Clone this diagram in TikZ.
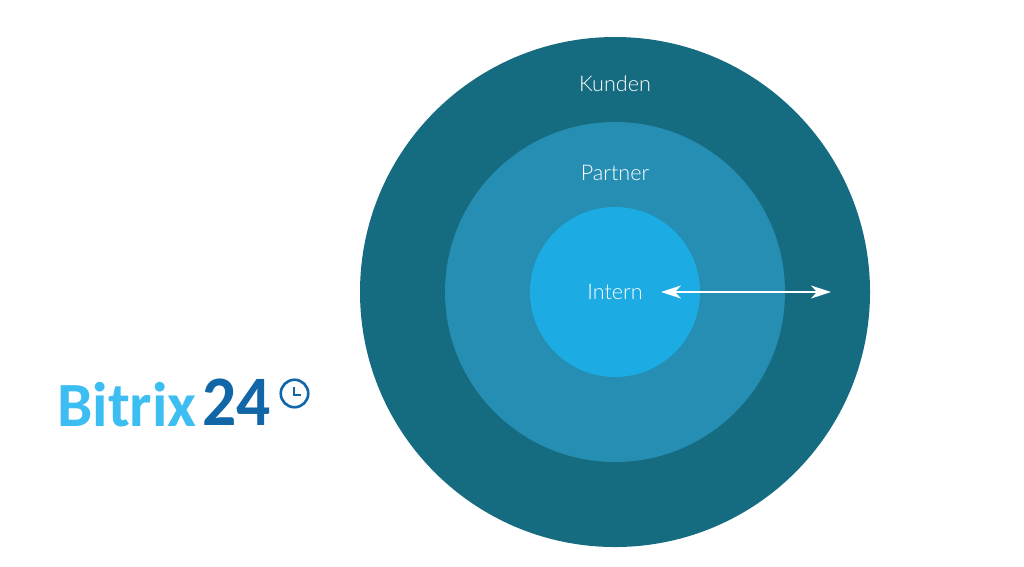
\documentclass[tikz,border=0pt]{standalone}
\usepackage{fontspec}
\setmainfont{Lato Light}
\newfontfamily\logofont{Carlito}[BoldFont={Carlito Bold}]
\usetikzlibrary{arrows.meta}
\definecolor{outerc}{HTML}{156B80}
\definecolor{midc}{HTML}{258EB2}
\definecolor{innerc}{HTML}{1CABE2}
\definecolor{logolight}{HTML}{3DBEF3}
\definecolor{logodark}{HTML}{1066A6}
\tikzset{
  ring/.style={circle,inner sep=0pt,minimum size=#1},
  ringlabel/.style={text=white,font=\fontsize{21.6}{24}\selectfont,inner sep=0pt,anchor=base},
  logotext/.style={inner sep=0pt,anchor=base west},
}
\begin{document}
\begin{tikzpicture}[x=1pt,y=-1pt]
\useasboundingbox (0,0) rectangle (1024,566);
\fill[white] (0,0) rectangle (1024,566);
\node[ring=510pt,fill=outerc] (outer) at (615,292) {};
\node[ring=340pt,fill=midc] (middle) at (615,292) {};
\node[ring=170pt,fill=innerc] (inner) at (615,292) {};
\node[ringlabel] (kunden) at (615,91) {Kunden};
\node[ringlabel] (partner) at (615,180) {Partner};
\node[ringlabel] (intern) at (615,299) {Intern};
\coordinate (arrowL) at (661,292);
\coordinate (arrowR) at (831,292);
\draw[white,line width=1.6pt,{Stealth[length=20pt,width=13pt,inset=6pt]}-{Stealth[length=20pt,width=13pt,inset=6pt]}] (arrowL) -- (arrowR);
\node[logotext,text=logolight,font=\logofont\bfseries\fontsize{63}{70}\selectfont] (bitrix) at (57,426) {Bitrix};
\node[logotext,text=logodark,font=\logofont\bfseries\fontsize{71}{80}\selectfont,xscale=.95] (num) at (202,425.5) {24};
\node[circle,draw=logodark,line width=2.6pt,minimum size=27.5pt,inner sep=0pt] (clock) at (294.5,393.5) {};
\draw[logodark,line width=2pt] (294,387) -- (294,395) -- (301,395);
\end{tikzpicture}
\end{document}
